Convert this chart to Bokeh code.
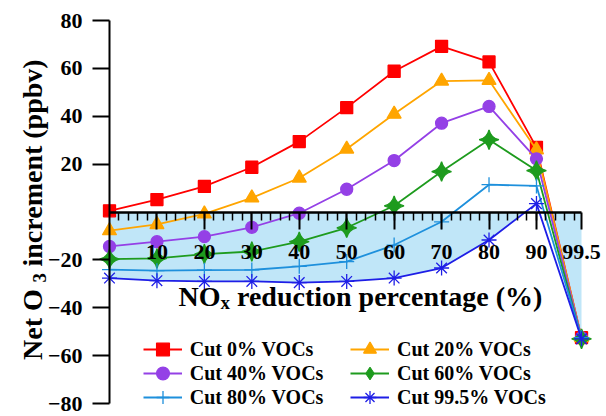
import numpy as np
from bokeh.plotting import figure
from bokeh.models import Range1d, FixedTicker, Legend, LegendItem, Label
from bokeh.embed import file_html
from bokeh.resources import INLINE

# ---------------- data ----------------
nox_cut = [0, 10, 20, 30, 40, 50, 60, 70, 80, 90, 99.5]
cut0 = [0.5, 5.2, 10.7, 18.7, 29.4, 43.6, 58.8, 69.2, 62.7, 27.0, -52.5]
cut20 = [-7.8, -5.2, -0.8, 5.9, 14.2, 26.3, 40.9, 54.7, 55.0, 26.0, -52.5]
cut40 = [-14.4, -12.4, -10.3, -6.4, -0.5, 9.5, 21.5, 37.1, 44.1, 22.2, -52.5]
cut60 = [-19.7, -19.4, -17.6, -16.5, -12.4, -6.6, 2.6, 16.9, 30.2, 17.3, -53.0]
cut80 = [-24.1, -24.5, -24.3, -24.2, -22.7, -20.7, -13.8, -4.1, 11.4, 10.9, -52.5]
cut995 = [-27.6, -28.7, -29.0, -29.0, -29.5, -29.0, -27.6, -23.4, -11.7, 3.5, -53.0]

series_names = ["Cut 0% VOCs", "Cut 20% VOCs", "Cut 40% VOCs",
                "Cut 60% VOCs", "Cut 80% VOCs", "Cut 99.5% VOCs"]
series_values = [cut0, cut20, cut40, cut60, cut80, cut995]

x_tick_values = [10, 20, 30, 40, 50, 60, 70, 80, 90, 99.5]
x_tick_labels = ["10", "20", "30", "40", "50", "60", "70", "80", "90", "99.5"]
y_tick_values = [-80, -60, -40, -20, 20, 40, 60, 80]

# ---------------- styles ----------------
colors = ["#FF0000", "#FFA500", "#9440E6", "#1E9B1E", "#1E90DC", "#1E1EE6"]
markers = ["square", "triangle", "circle", "square_pin", "cross", "asterisk"]
msizes = [12, 14, 12, 14, 15, 15]
mangles = [0, 0, 0, np.pi / 4, 0, 0]
FONT = "Times New Roman"
SHADE = "#C0E6F8"

W, H = 606, 416
X0_PX, X_SCALE = 109.0, 4.744      # page px of x=0, px per unit
Y0_PX, Y_SCALE = 211.5, 2.39375    # page px of y=0, px per unit


def cx2x(cx):
    return (cx - X0_PX) / X_SCALE


def cy2y(cy):
    return (Y0_PX - cy) / Y_SCALE


p = figure(width=W, height=H,
           x_range=Range1d(cx2x(0), cx2x(W)),
           y_range=Range1d(cy2y(H), cy2y(0)),
           output_backend="svg", toolbar_location=None,
           min_border_left=0, min_border_right=0,
           min_border_top=0, min_border_bottom=0)
p.outline_line_color = None
p.grid.visible = False
p.background_fill_color = "white"
p.border_fill_color = "white"


def zero_cross(xa, ya, xb, yb):
    return xa + (0 - ya) * (xb - xa) / (yb - ya)


# shaded area: between 0 and the Cut 99.5% curve while it is negative
xs_a, ys_a = [], []
for i in range(len(nox_cut)):
    if cut995[i] < 0:
        xs_a.append(nox_cut[i])
        ys_a.append(cut995[i])
    else:
        xs_a.append(zero_cross(nox_cut[i - 1], cut995[i - 1], nox_cut[i], cut995[i]))
        ys_a.append(0)
        break
p.varea(x=xs_a, y1=[0] * len(xs_a), y2=ys_a, fill_color=SHADE, fill_alpha=1.0)

# shaded area: between 0 and the Cut 0% curve on the last segment
xr = zero_cross(nox_cut[-2], cut0[-2], nox_cut[-1], cut0[-1])
p.patch(x=[xr, nox_cut[-1], nox_cut[-1]], y=[0, 0, cut0[-1]],
        fill_color=SHADE, line_color=None)

line_rs, mark_rs, legend_marks = [], [], []
for k, (vals, c, m, s, a) in enumerate(zip(series_values, colors, markers, msizes, mangles)):
    lr = p.line(nox_cut, vals, line_color=c, line_width=1.8)
    leg_mark = None
    if m == "square_pin":
        # small diamond hidden under the 4-point star; used for the legend swatch
        leg_mark = p.scatter(nox_cut, vals, marker="diamond", size=6,
                             fill_color=c, line_color=c, line_width=1.0)
    mr = p.scatter(nox_cut, vals, marker=m, size=s, angle=a,
                   fill_color=c, line_color=c, line_width=1.3)
    line_rs.append(lr)
    mark_rs.append(mr)
    legend_marks.append(leg_mark if leg_mark is not None else mr)

# ---------------- axes ----------------
xa = p.xaxis[0]
xa.fixed_location = 0
xa.bounds = (0, 99.5)
xa.ticker = FixedTicker(ticks=x_tick_values,
                        minor_ticks=list(np.arange(2, 99, 2)))
xa.major_label_overrides = {v: l for v, l in zip(x_tick_values, x_tick_labels)}
xa.axis_line_width = 2.5
xa.axis_line_color = "black"
xa.major_tick_out = 17
xa.major_tick_in = 0
xa.minor_tick_out = 8
xa.minor_tick_in = 0
xa.major_tick_line_width = 2
xa.minor_tick_line_width = 1.5
xa.major_label_text_font = FONT
xa.major_label_text_font_style = "bold"
xa.major_label_text_font_size = "22px"
xa.major_label_text_color = "black"
xa.major_label_standoff = 16

ya = p.yaxis[0]
ya.fixed_location = 0
ya.bounds = (-80, 80)
ya.ticker = FixedTicker(ticks=y_tick_values, minor_ticks=[])
ya.axis_line_width = 2
ya.axis_line_color = "black"
ya.major_tick_out = 17
ya.major_tick_in = 0
ya.minor_tick_out = 0
ya.minor_tick_in = 0
ya.major_tick_line_width = 2
ya.major_label_text_font = FONT
ya.major_label_text_font_style = "bold"
ya.major_label_text_font_size = "22px"
ya.major_label_text_color = "black"
ya.major_label_standoff = 10


# ---------------- axis titles ----------------
def add_label(cx, cy, text, size, angle=0.0):
    p.add_layout(Label(x=cx2x(cx), y=cy2y(cy), text=text, angle=angle,
                       text_font=FONT, text_font_style="bold",
                       text_font_size=size, text_color="black",
                       text_align="left", text_baseline="alphabetic"))


add_label(178, 296, "NO", "28px")
add_label(220, 302, "x", "19px")
add_label(236.5, 296, "reduction percentage (%)", "28px")

add_label(31.7, 359.5, "Net O", "28px", np.pi / 2)
add_label(38.5, 282, "3", "19px", np.pi / 2)
add_label(31.7, 266, "increment (ppbv)", "28px", np.pi / 2)


# ---------------- legend (one box per entry) ----------------
legend_slots = [(142.7, 50.7), (350, 50.7),
                (142.7, 26.7), (350, 26.7),
                (142.7, 2.7), (350, 2.7)]

for i, loc in enumerate(legend_slots):
    lg = Legend(items=[LegendItem(label=series_names[i],
                                  renderers=[line_rs[i], legend_marks[i]])],
                location=loc, orientation="vertical",
                glyph_width=39, glyph_height=32, label_height=32,
                spacing=0, padding=0, margin=0, label_standoff=8,
                border_line_color=None, background_fill_alpha=0,
                label_text_font=FONT, label_text_font_style="bold",
                label_text_font_size="20px", label_text_color="black")
    p.add_layout(lg)

open("out.html", "w").write(file_html(p, INLINE))
